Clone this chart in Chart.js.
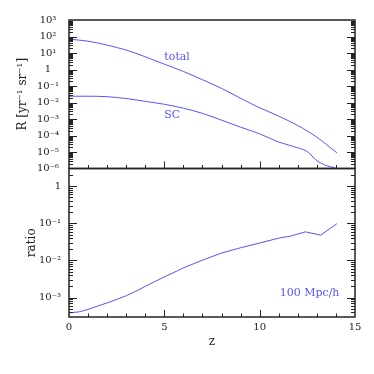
<!DOCTYPE html>
<html>
<head>
<meta charset="utf-8">
<script src="https://cdn.jsdelivr.net/npm/chart.js@4/dist/chart.umd.min.js"></script>
<style>
  body { margin: 0; background: #fff; }
</style>
</head>
<body>
<canvas id="chart" width="374" height="374"></canvas>
<script>
// rate of total and SC events versus redshift
const zTotal = [0, 1, 2, 3, 4, 5, 6, 7, 8, 9, 10, 11, 12, 13, 14.05];
const rateTotal = [69, 52, 30, 15, 5.9, 2.1, 0.76, 0.24, 0.072, 0.018, 0.0048, 0.0015, 4.0e-4, 7.9e-5, 8.9e-6];

const zSC = [0, 1, 2, 3, 4, 5, 6, 7, 8, 9, 10, 11, 12, 12.5, 13, 13.5, 13.95];
const rateSC = [0.024, 0.024, 0.0224, 0.0174, 0.0117, 0.0078, 0.0045, 0.0022, 8.5e-4, 3.2e-4, 1.26e-4, 4e-5, 1.8e-5, 1.05e-5, 3e-6, 1.5e-6, 1.1e-6];

const zRatio = [0, 0.5, 1, 1.5, 2, 2.5, 3, 3.5, 4, 4.5, 5, 6, 7, 8, 9, 10, 11, 11.6, 12.4, 13.2, 14.05];
const ratio = [3.9e-4, 4.1e-4, 4.8e-4, 5.9e-4, 7.2e-4, 8.9e-4, 1.12e-3, 1.48e-3, 2.0e-3, 2.7e-3, 3.6e-3, 6.3e-3, 0.0102, 0.0158, 0.022, 0.0295, 0.040, 0.045, 0.059, 0.048, 0.098];

const xTicks = [0, 5, 10, 15];

const blue = "rgb(85, 85, 255)";
const ink = "#222";
const serif = "'DejaVu Serif', serif";

const sup = { "-": "\u207B", "0": "\u2070", "1": "\u00B9", "2": "\u00B2", "3": "\u00B3", "4": "\u2074", "5": "\u2075", "6": "\u2076", "7": "\u2077", "8": "\u2078", "9": "\u2079" };

function powLabel(v) {
  const e = Math.log10(v);
  const n = Math.round(e);
  if (Math.abs(e - n) > 1e-6) return "";
  if (n === 0) return "1";
  return "10" + String(n).split("").map(c => sup[c]).join("");
}

function pts(xs, ys) {
  return xs.map((x, i) => ({ x: x, y: ys[i] }));
}

// frame plus inward ticks on both panels
const frameTicks = {
  id: "frameTicks",
  afterDatasetsDraw(chart) {
    const { ctx, scales } = chart;
    const x = scales.x;
    ctx.save();
    ctx.strokeStyle = ink;
    ctx.lineWidth = 1;
    ["yT", "yR"].forEach(id => {
      const y = scales[id];
      const lo = Math.floor(Math.log10(y.min));
      const hi = Math.ceil(Math.log10(y.max));
      ctx.beginPath();
      for (let d = lo; d <= hi; d++) {
        for (let m = 1; m <= 9; m++) {
          const v = m * Math.pow(10, d);
          const py = Math.round(y.getPixelForValue(v)) + 0.5;
          if (py <= y.top + 1 || py >= y.bottom - 1) continue;
          const len = m === 1 ? 8 : 4;
          ctx.moveTo(x.left, py);
          ctx.lineTo(x.left + len, py);
          ctx.moveTo(x.right, py);
          ctx.lineTo(x.right - len, py);
        }
      }
      for (let k = 1; k < 15; k++) {
        const px = Math.round(x.getPixelForValue(k)) + 0.5;
        const len = k % 5 === 0 ? 7 : 3.5;
        ctx.moveTo(px, y.bottom);
        ctx.lineTo(px, y.bottom - len);
      }
      ctx.stroke();
      ctx.lineWidth = 1.5;
      ctx.strokeRect(x.left, y.top, x.right - x.left, y.bottom - y.top);
      ctx.lineWidth = 1;
    });
    ctx.restore();
  }
};

// curve names written inside the panels
const curveNames = {
  id: "curveNames",
  afterDatasetsDraw(chart) {
    const { ctx, scales } = chart;
    ctx.save();
    ctx.fillStyle = blue;
    ctx.font = "11px " + serif;
    ctx.textAlign = "left";
    ctx.textBaseline = "middle";
    ctx.fillText("total", scales.x.getPixelForValue(5.0), scales.yT.getPixelForValue(5.6));
    ctx.fillText("SC", scales.x.getPixelForValue(5.0), scales.yT.getPixelForValue(1.66e-3));
    ctx.fillText("100 Mpc/h", scales.x.getPixelForValue(11.05), scales.yR.getPixelForValue(1.3e-3));
    ctx.restore();
  }
};

new Chart(document.getElementById("chart"), {
  type: "line",
  data: {
    datasets: [
      { data: pts(zTotal, rateTotal), yAxisID: "yT", cubicInterpolationMode: "monotone" },
      { data: pts(zSC, rateSC), yAxisID: "yT", cubicInterpolationMode: "monotone" },
      { data: pts(zRatio, ratio), yAxisID: "yR", tension: 0 },
    ],
  },
  options: {
    responsive: false,
    animation: false,
    devicePixelRatio: 1,
    layout: { padding: { top: 20, right: 19, bottom: 20, left: 0 } },
    elements: {
      line: { borderColor: blue, borderWidth: 1 },
      point: { radius: 0 },
    },
    plugins: {
      legend: { display: false },
      tooltip: { enabled: false },
    },
    scales: {
      x: {
        type: "linear",
        min: 0,
        max: 15,
        afterBuildTicks: (s) => { s.ticks = xTicks.map(v => ({ value: v })); },
        afterFit: (s) => { s.height = 37; },
        grid: { display: false, drawTicks: false },
        border: { display: false },
        ticks: { color: ink, font: { family: serif, size: 10 }, padding: 4, maxRotation: 0 },
        title: { display: true, text: "z", color: ink, font: { family: serif, size: 12 }, padding: { top: 0, bottom: 5 } },
      },
      yR: {
        type: "logarithmic",
        position: "left",
        stack: "panels",
        min: 3e-4,
        max: 3,
        afterFit: (s) => { s.width = 69; },
        grid: { display: false, drawTicks: false },
        border: { display: false },
        ticks: { autoSkip: false, color: ink, font: { family: serif, size: 10 }, padding: 8, callback: (v) => powLabel(v) },
        title: { display: true, text: "ratio", color: ink, font: { family: serif, size: 12 }, padding: { top: 25, bottom: 0 } },
      },
      yT: {
        type: "logarithmic",
        position: "left",
        stack: "panels",
        min: 1e-6,
        max: 1e3,
        afterFit: (s) => { s.width = 69; },
        grid: { display: false, drawTicks: false },
        border: { display: false },
        ticks: { autoSkip: false, crossAlign: "center", color: ink, font: { family: serif, size: 10 }, padding: 10, callback: (v) => powLabel(v) },
        title: { display: true, text: "R [yr\u207B\u00B9 sr\u207B\u00B9]", color: ink, font: { family: serif, size: 12 }, padding: { top: 16, bottom: 0 } },
      },
    },
  },
  plugins: [frameTicks, curveNames],
});
</script>
</body>
</html>
